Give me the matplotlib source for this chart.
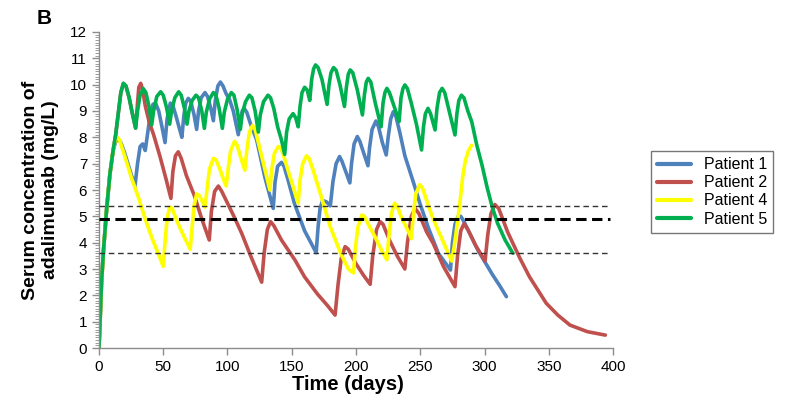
import matplotlib
matplotlib.use('Agg')
import matplotlib.pyplot as plt
from matplotlib.ticker import MultipleLocator

plt.rcParams['font.family'] = ['Liberation Sans', 'DejaVu Sans']

# Patient 1 (blue)
p1_days = [0, 1, 2, 3.5, 6, 8.5, 11, 14, 17, 20, 25, 28,
           30, 32, 34, 36, 38, 40, 42, 44, 46.5, 49, 51.4,
           53, 55.5, 57.5, 60, 62.5, 64.5,
           66, 67.5, 69.5, 71.5, 74, 76,
           77.5, 79.5, 82.5, 84.5, 87, 89,
           90.5, 92.5, 94.5, 96.5, 99, 101.5, 104.5, 108.4,
           110, 111.5, 113, 115, 118, 122.7, 129, 135.6,
           137, 139, 142, 144, 147, 152, 160, 169,
           170.5, 172, 174, 177, 180,
           182, 184.5, 187.2, 189, 192, 195.2,
           196.5, 198.5, 201, 203, 206, 209.3,
           210.5, 212.5, 215.5, 217.5, 220.5, 223.5,
           225, 227, 229, 231, 234, 238, 244.6, 250, 256, 264, 273.5,
           275, 277, 279.5, 281.5, 284, 290, 295, 300.5, 306, 312, 317]
p1_conc = [0, 1.2, 2.5, 3.7, 5.3, 6.6, 7.5, 8.0, 7.8, 7.4, 6.6, 6.15,
           7.0, 7.65, 7.75, 7.5, 8.2, 8.9, 9.25, 9.3, 9.0, 8.4, 7.8,
           8.7, 9.3, 9.2, 8.8, 8.35, 8.0,
           8.8, 9.3, 9.48, 9.35, 8.85, 8.3,
           9.0, 9.5, 9.7, 9.55, 9.1, 8.63,
           9.4, 9.95, 10.1, 9.95, 9.65, 9.45, 9.0, 8.1,
           8.7, 9.0, 9.1, 8.95, 8.5, 7.9, 6.5, 5.3,
           6.3, 6.9, 7.05, 6.9, 6.4, 5.5, 4.45, 3.62,
           4.6, 5.3, 5.6, 5.55, 5.4,
           6.3, 7.0, 7.27, 7.1, 6.7, 6.27,
           7.0, 7.75, 8.03, 7.85, 7.4, 6.92,
           7.6, 8.3, 8.62, 8.4, 7.8, 7.33,
           8.0, 8.7, 8.97, 8.8, 8.2, 7.3, 6.3, 5.45, 4.6, 3.6, 2.96,
           4.0, 4.7, 5.0, 5.0, 4.8, 4.2, 3.7, 3.25, 2.8, 2.35, 1.95]

# Patient 2 (red)
p2_days = [0, 1, 2, 3.5, 6, 8.5, 11, 13, 15, 17, 19, 21, 23.5, 26, 28.5,
           30, 31, 32.5, 34, 36, 39, 42.5, 47.5, 52, 56,
           57.5, 59.5, 61.7, 64, 68, 74.5, 80, 85.8,
           87.5, 90, 92.9, 95.5, 100, 105, 111, 118, 126.6,
           128.5, 131, 133.5, 136, 142, 152.5, 160, 170, 178, 183.7,
           186, 188.5, 191.5, 194, 200, 206, 211,
           213, 216, 218.7, 221, 226, 232, 238,
           240, 243, 246, 249, 255, 260, 268, 277,
           279, 281.5, 284, 287, 293, 300.4,
           302.5, 305, 308, 311, 318, 327.6, 335, 348, 357, 366.5, 380, 394]
p2_conc = [0, 1.2, 2.5, 3.7, 5.3, 6.6, 7.5, 8.1, 8.9, 9.7, 10.05, 9.95, 9.5, 8.9, 8.35,
           9.3, 9.9, 10.05, 9.8, 9.2, 8.6, 8.1, 7.27, 6.45, 5.68,
           6.7, 7.3, 7.45, 7.2, 6.55, 5.75, 4.9, 4.1,
           5.2, 5.95, 6.15, 5.95, 5.5, 5.0, 4.36, 3.5, 2.5,
           3.6, 4.5, 4.8, 4.65, 4.1, 3.34, 2.7, 2.05, 1.6, 1.25,
           2.4, 3.4, 3.85, 3.75, 3.2, 2.75, 2.42,
           3.5, 4.5, 4.8, 4.7, 4.1, 3.5, 3.0,
           4.0, 5.0, 5.3, 5.1, 4.4, 3.98, 3.1, 2.33,
           3.5, 4.45, 4.72, 4.5, 3.9, 3.3,
           4.3, 5.1, 5.45, 5.3, 4.4, 3.4, 2.7, 1.7, 1.25, 0.87, 0.62, 0.49]

# Patient 4 (yellow)
p4_days = [0, 1, 2, 3.5, 6, 8.5, 11, 12.5, 14, 16, 18, 20, 25, 30.5, 36, 41, 46, 50,
           51.5, 53, 55, 57, 60, 65, 68.5, 71,
           72.5, 74, 76, 78, 80, 82.5,
           84, 86, 89, 91, 94, 96.5, 99,
           100.5, 102.5, 105.5, 107.5, 110.5, 113.5,
           115, 117, 119.5, 121.5, 124.5, 128, 133,
           134.5, 136.5, 139.5, 141.5, 144, 148, 155,
           156.5, 158.5, 161.5, 163.5, 167, 172, 180, 188, 194, 198,
           199.5, 201.5, 204.5, 206.5, 209, 215, 220, 224,
           225.5, 227.5, 230, 232, 235, 240, 243,
           244.5, 246.5, 249.5, 251.5, 255, 260, 265, 270, 274.5,
           276.5, 279, 281, 283, 285, 287.5, 290]
p4_conc = [0, 1.2, 2.4, 3.7, 5.3, 6.6, 7.5, 7.85, 8.0, 7.9, 7.6, 7.3, 6.5, 5.75, 4.9, 4.2, 3.6, 3.1,
           4.1, 4.9, 5.35, 5.3, 4.9, 4.35, 4.0, 3.75,
           4.6, 5.4, 5.85, 5.8, 5.6, 5.35,
           6.0, 6.8, 7.2, 7.15, 6.8, 6.45, 6.15,
           6.8, 7.5, 7.85, 7.7, 7.2, 6.75,
           7.5, 8.2, 8.45, 8.3, 7.7, 7.0, 6.0,
           6.8, 7.4, 7.65, 7.6, 7.25, 6.6, 5.5,
           6.4, 7.0, 7.3, 7.2, 6.7, 5.9, 4.6, 3.6, 3.0, 2.85,
           3.8, 4.6, 5.05, 5.0, 4.75, 4.2, 3.7, 3.35,
           4.2, 5.1, 5.5, 5.4, 5.0, 4.5, 4.15,
           5.0, 5.85, 6.2, 6.1, 5.6, 4.9, 4.35, 3.8, 3.3,
           3.9, 4.8, 5.6, 6.5, 7.1, 7.5, 7.7]

# Patient 5 (green)
p5_days = [0, 1, 2, 3.5, 6, 8.5, 11, 13, 15, 17, 19, 21, 23.5, 26, 28.5,
           30, 32, 34.5, 36.5, 39, 41,
           42.5, 45, 48, 50, 52.5, 55,
           56.5, 59, 62, 64, 66.5, 68.5,
           70, 72.5, 75.5, 77.5, 80, 82,
           83.5, 86, 89, 91, 93.5, 96,
           97.5, 100, 103, 105, 107.5, 110,
           111.5, 114, 117, 119, 121.5, 124,
           125.5, 128, 131.5, 133.5, 136, 139, 142, 144.5,
           146, 148, 151, 153, 155,
           156.5, 158, 160, 162, 164,
           165.5, 167, 168.5, 170.5, 173.5, 177.5,
           179, 180.5, 182.5, 184.5, 187.5, 191,
           192.5, 194, 195.5, 197.5, 201, 205,
           206.5, 208, 209.5, 211.5, 215, 219.5,
           221, 222.5, 224, 226, 229.5, 233.5,
           235, 236.5, 238, 240, 243, 247, 251,
           252.5, 254, 256, 258, 261.5,
           263, 265, 267, 269, 272.5, 277,
           278.5, 280, 282, 284, 287, 290, 294, 298, 302, 306, 310, 316, 322]
p5_conc = [0, 1.2, 2.5, 3.7, 5.3, 6.6, 7.5, 8.1, 8.9, 9.7, 10.05, 9.95, 9.5, 8.9, 8.35,
           9.0, 9.6, 9.85, 9.7, 9.15, 8.47,
           9.0, 9.55, 9.73, 9.6, 9.15, 8.5,
           9.0, 9.5, 9.73, 9.6, 9.1, 8.5,
           9.0, 9.4, 9.6, 9.5, 9.0, 8.34,
           8.95, 9.45, 9.7, 9.6, 9.1, 8.34,
           8.95, 9.45, 9.7, 9.6, 9.05, 8.3,
           8.9, 9.35, 9.6, 9.5, 9.0, 8.2,
           8.85, 9.35, 9.6, 9.5, 9.1, 8.4, 7.9, 7.35,
           8.2, 8.7, 8.9, 8.75, 8.4,
           9.2, 9.7, 9.9, 9.8, 9.4,
           10.2, 10.6, 10.75, 10.65, 10.2, 9.25,
           10.0, 10.45, 10.65, 10.55, 10.0, 9.17,
           9.9, 10.4, 10.56, 10.45, 9.8, 8.85,
           9.6, 10.1, 10.24, 10.1, 9.3, 8.4,
           9.3, 9.7, 9.86, 9.7, 9.2, 8.6,
           9.5, 9.85, 9.99, 9.85, 9.3, 8.5, 7.52,
           8.4, 8.9, 9.1, 8.9, 8.28,
           9.1, 9.7, 9.86, 9.7, 9.0, 8.09,
           8.9, 9.4, 9.6, 9.5, 9.0, 8.6, 7.7, 6.95, 6.1, 5.35, 4.75, 4.1, 3.6]

ref_upper = 5.4
ref_mid = 4.9
ref_lower = 3.6

fig = plt.figure(figsize=(7.88, 4.04), dpi=100)
ax = fig.add_axes([0.1256, 0.1386, 0.6524, 0.7822])

series = [
    (p1_days, p1_conc, '#4f81bd', 'Patient 1'),
    (p2_days, p2_conc, '#c0504d', 'Patient 2'),
    (p4_days, p4_conc, '#ffff00', 'Patient 4'),
    (p5_days, p5_conc, '#00b050', 'Patient 5'),
]
for d, c, col, lab in series:
    ax.plot(d, c, color=col, lw=2.6, label=lab, solid_joinstyle='round',
            solid_capstyle='round', zorder=2)

ax.hlines([ref_upper, ref_lower], 0, 398, colors='#333333', lw=1.0,
          linestyles=(0, (4, 2.7)), zorder=3)
ax.hlines(ref_mid, 0, 398, colors='black', lw=2.2,
          linestyles=(0, (3.4, 1.8)), zorder=3)

ax.set_xlim(0, 400)
ax.set_ylim(0, 12)
ax.xaxis.set_major_locator(MultipleLocator(50))
ax.yaxis.set_major_locator(MultipleLocator(1))
ax.yaxis.set_minor_locator(MultipleLocator(0.1))

for s in ['top', 'right']:
    ax.spines[s].set_visible(False)
for s in ['left', 'bottom']:
    ax.spines[s].set_color('#8c8c8c')
    ax.spines[s].set_linewidth(1.0)

ax.tick_params(axis='both', which='major', labelsize=11, color='#8c8c8c',
               length=5, width=1, direction='out')
ax.tick_params(axis='y', which='minor', color='#8c8c8c', length=3, width=0.6)

ax.set_xlabel('Time (days)', fontsize=14.5, fontweight='bold')
ax.xaxis.set_label_coords(0.485, -0.085)
ax.set_ylabel('Serum concentration of\nadalimumab (mg/L)', fontsize=14,
              fontweight='bold', labelpad=8)

fig.text(0.047, 0.94, 'B', fontsize=15, fontweight='bold')

leg = fig.legend(loc='center left', bbox_to_anchor=(0.826, 0.525),
                 fontsize=11.5, frameon=True, fancybox=False,
                 labelspacing=0.2, handlelength=2.1, borderaxespad=0)
leg.get_frame().set_edgecolor('#555555')
leg.get_frame().set_linewidth(1.0)
for line in leg.get_lines():
    line.set_linewidth(3)

fig.savefig('out.png', dpi=100)
